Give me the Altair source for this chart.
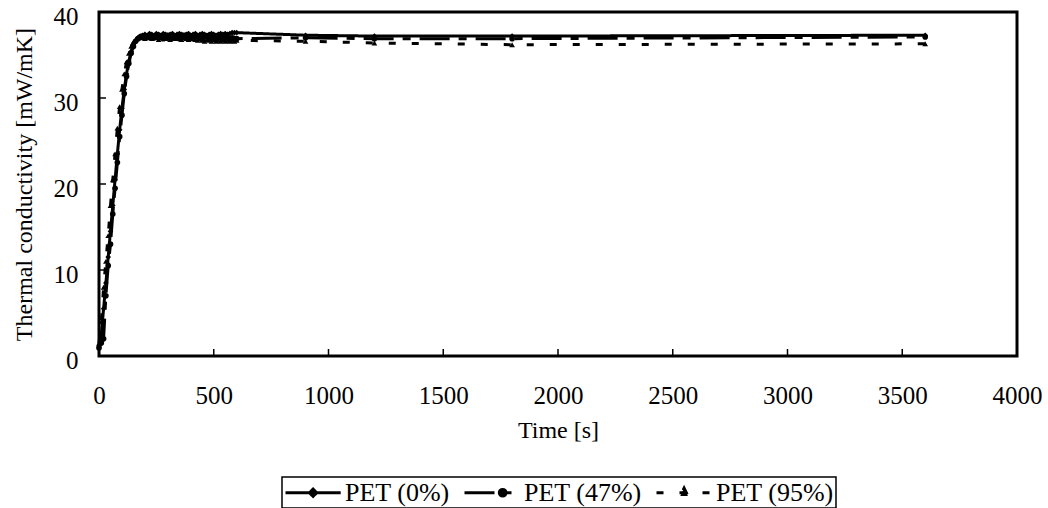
import altair as alt
import pandas as pd

# ---- data ----
dense_t = list(range(0, 601, 10))
late_t = [900, 1200, 1800, 3600]
times = dense_t + late_t

pet0 = [0.8, 2.5, 5.5, 8.5, 11.5, 14.5, 17.5, 20.5, 23.5, 26.3,
        28.8, 31.0, 32.8, 34.3, 35.4, 36.2, 36.7, 37.0, 37.2, 37.3,
        37.4, 37.3, 37.5, 37.4, 37.3, 37.5, 37.4, 37.3, 37.5, 37.4,
        37.3, 37.4, 37.5, 37.3, 37.4, 37.5, 37.4, 37.3, 37.4, 37.5,
        37.3, 37.4, 37.5, 37.3, 37.4, 37.5, 37.4, 37.3, 37.4, 37.5,
        37.4, 37.3, 37.4, 37.5, 37.4, 37.5, 37.4, 37.5, 37.6, 37.6,
        37.6,
        37.3, 37.2, 37.2, 37.3]

pet47 = [1.0, 1.5, 2.0, 7.0, 10.5, 13.0, 16.5, 19.5, 22.5, 25.5,
         28.0, 30.5, 32.5, 34.0, 35.2, 36.0, 36.6, 36.9, 37.1, 37.2,
         37.0, 37.2, 37.3, 37.1, 37.0, 37.2, 37.3, 37.1, 36.9, 37.2,
         37.3, 37.1, 37.0, 37.2, 37.1, 36.9, 37.2, 37.3, 37.0, 37.1,
         37.2, 36.9, 37.1, 37.2, 37.0, 36.8, 37.1, 37.2, 36.9, 37.0,
         37.2, 36.9, 37.0, 37.1, 36.8, 37.0, 37.1, 36.9, 37.0, 36.9,
         36.9,
         37.0, 36.9, 36.9, 37.1]

pet95 = [1.5, 4.0, 8.0, 11.0, 14.0, 17.5, 20.5, 23.5, 26.5, 29.0,
         31.0, 32.8, 34.2, 35.2, 36.0, 36.5, 36.8, 37.0, 37.1, 37.0,
         36.9, 37.1, 37.0, 36.9, 37.1, 37.0, 36.8, 37.0, 37.1, 36.9,
         37.0, 36.8, 37.0, 36.9, 37.1, 36.9, 36.8, 37.0, 36.9, 36.8,
         36.9, 37.0, 36.8, 36.7, 36.9, 36.7, 36.6, 36.8, 36.7, 36.6,
         36.8, 36.6, 36.7, 36.6, 36.8, 36.6, 36.7, 36.6, 36.7, 36.6,
         36.7,
         36.6, 36.4, 36.2, 36.3]

series = ["PET (0%)", "PET (47%)", "PET (95%)"]
shapes = ["diamond", "circle", "triangle-up"]
x_ticks = [0, 500, 1000, 1500, 2000, 2500, 3000, 3500, 4000]
y_ticks = [0, 10, 20, 30, 40]

rows = []
for name, vals in zip(series, [pet0, pet47, pet95]):
    for t, v in zip(times, vals):
        rows.append({"t": t, "k": v, "s": name})
df = pd.DataFrame(rows)

W, H = 918, 344
FONT = "Liberation Serif"

xs = alt.Scale(domain=[0, 4000], nice=False)
ys = alt.Scale(domain=[0, 40], nice=False)

x_enc = alt.X("t:Q", scale=xs, axis=alt.Axis(
    title="Time [s]", values=x_ticks, format="d", ticks=False, domain=False,
    grid=False, labelPadding=27, titlePadding=10, titleFontSize=24,
    labelFlush=False))
y_enc = alt.Y("k:Q", scale=ys, axis=alt.Axis(
    title="Thermal conductivity [mW/mK]", values=y_ticks, ticks=False,
    domain=False, grid=False, labelPadding=21, labelOffset=4, titlePadding=17,
    titleFontSize=24, labelFlush=False))

dash_scale = alt.Scale(domain=series, range=[[1, 0], [30, 9, 8, 9], [7, 16]])

# legend glyphs: a line with the series' marker drawn on it (unit coordinates)
LINE = "M-1,0H3.6"
GLYPH0 = LINE + "M1.3,-0.3L1.6,0L1.3,0.3L1,0Z"
GLYPH47 = LINE + "M1.9,0A0.28,0.28 0 1,0 2.46,0A0.28,0.28 0 1,0 1.9,0Z"
GLYPH95 = LINE + "M1.3,-0.38L1.62,0.28L0.98,0.28Z"
shape_sig = ("datum.value === '" + series[0] + "' ? '" + GLYPH0 + "' : "
             "datum.value === '" + series[1] + "' ? '" + GLYPH47 + "' : '"
             + GLYPH95 + "'")

lines = alt.Chart(df).mark_line(color="black", strokeWidth=3).encode(
    x=x_enc, y=y_enc,
    strokeDash=alt.StrokeDash("s:N", scale=dash_scale, sort=series,
                              legend=alt.Legend(
                                  title=None, orient="none",
                                  legendX=183, legendY=465,
                                  symbolType=alt.ExprRef(expr=shape_sig),
                                  symbolSize=576,
                                  symbolFillColor="black",
                                  labelOffset=34)),
)

point_layers = []
for name, shp in zip(series, shapes):
    point_layers.append(
        alt.Chart(df).transform_filter(alt.datum.s == name)
        .mark_point(filled=True, color="black", opacity=1, shape=shp, size=32)
        .encode(x="t:Q", y="k:Q")
    )

xt = alt.Chart(pd.DataFrame({"v": x_ticks[1:-1]})).mark_rule(
    color="black", strokeWidth=1.5).encode(
    x=alt.X("v:Q", scale=xs), y=alt.value(H), y2=alt.value(H - 7))
yt = alt.Chart(pd.DataFrame({"v": y_ticks[1:-1]})).mark_rule(
    color="black", strokeWidth=1.5).encode(
    y=alt.Y("v:Q", scale=ys), x=alt.value(0), x2=alt.value(7))

chart = alt.layer(lines, *point_layers, xt, yt).properties(
    width=W, height=H,
    autosize=alt.AutoSizeParams(type="none"),
    padding={"left": 99, "top": 12, "right": 31, "bottom": 152},
).configure_view(
    stroke="black", strokeWidth=3
).configure_axis(
    labelFont=FONT, titleFont=FONT, labelFontSize=25, titleFontSize=24,
    labelColor="black", titleColor="black", titleFontWeight="normal",
).configure_legend(
    direction="horizontal", labelFont=FONT, labelFontSize=26,
    labelColor="black", strokeColor="black", strokeWidth=1.5, padding=2,
    symbolStrokeWidth=3, symbolStrokeColor="black", columnPadding=8,
    symbolOpacity=1, labelLimit=300,
)

chart.save("out.html", embed_options={"renderer": "svg", "actions": False})
